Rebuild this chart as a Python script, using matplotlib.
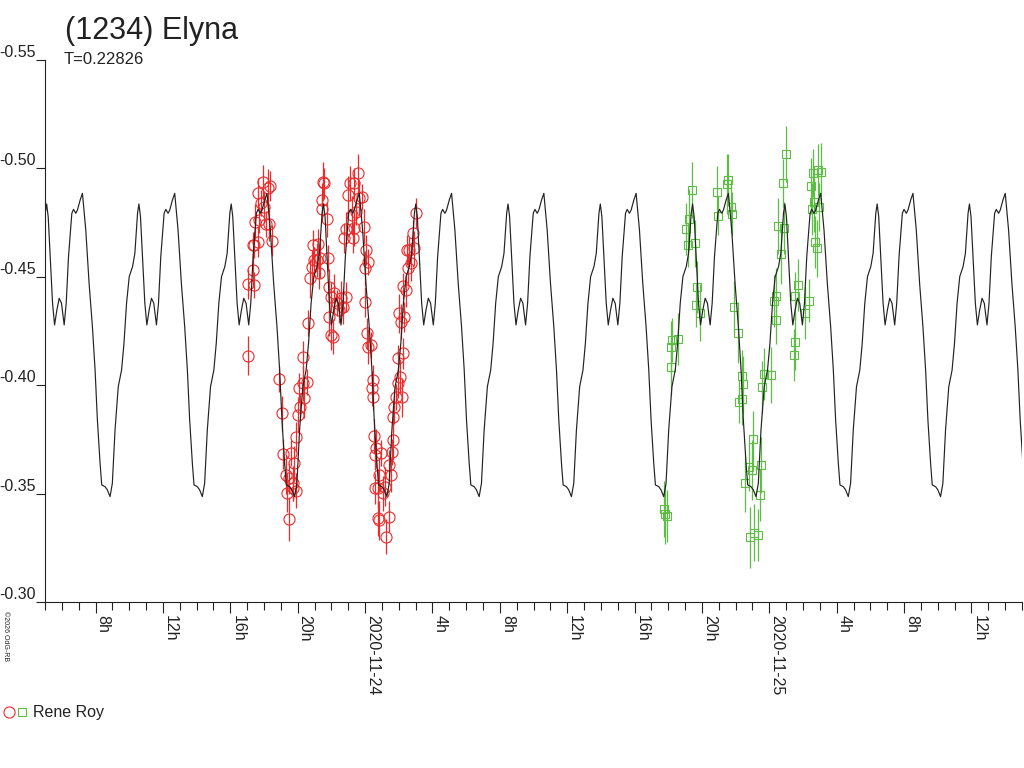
import numpy as np
import matplotlib
matplotlib.use("Agg")
import matplotlib.pyplot as plt
from matplotlib.lines import Line2D
from matplotlib.legend_handler import HandlerTuple

plt.rcParams['font.family'] = ['Liberation Sans', 'DejaVu Sans']

# hours since 2020-11-24 00:00 UT
period_d = 0.22826
peak_h = 5.136  # time of a maximum of the model

# one cycle of the model curve (phase, magnitude)
model_phase = [0, 0.036, 0.072, 0.108, 0.137, 0.162, 0.191, 0.209, 0.245, 0.270,
               0.299, 0.324, 0.353, 0.388, 0.424, 0.450, 0.478, 0.507, 0.543, 0.568,
               0.597, 0.612, 0.629, 0.651, 0.676, 0.698, 0.723, 0.748, 0.773, 0.802,
               0.824, 0.849, 0.885, 0.903, 0.928, 0.946, 0.975]
model_mag = [-0.4885, -0.4716, -0.4470, -0.4270, -0.4070, -0.3839, -0.3640, -0.3540, -0.3532, -0.3517,
             -0.3486, -0.3547, -0.3793, -0.3993, -0.4070, -0.4193, -0.4378, -0.4501, -0.4547, -0.4608,
             -0.4793, -0.4836, -0.4777, -0.4593, -0.4378, -0.4278, -0.4347, -0.4401, -0.4378, -0.4278,
             -0.4378, -0.4593, -0.4793, -0.4811, -0.4793, -0.4808, -0.4854]

# session 1 (red circles)
red_t = [-6.961, -6.922, -6.605, -6.625, -6.566, -6.368, -6.507, -6.309, -6.368, -6.072,
         -6.170, -5.973, -5.775, -5.617, -5.874, -5.676, -5.538, -6.665,
         -5.123, -4.925, -4.885, -4.688, -4.391, -4.193, -4.490, -4.648, -4.292, -4.094,
         -4.530, -4.094, -3.996, -3.857, -3.600, -3.897, -3.699, -3.462, -3.660, -3.363, -4.292,
         -3.264, -3.145, -3.106, -3.007, -2.869, -2.810, -2.671, -2.216, -2.552, -2.473,
         -2.414, -2.572, -2.276, -2.711,
         -2.157, -2.018, -1.821, -1.683, -1.425, -1.129, -2.117, -1.920, -2.018, -1.524, -1.287,
         -1.129, -1.228, -1.030, -0.891, -0.635, -0.437, -0.338, -0.180, -0.635, -0.734,
         -0.773, -0.536, -0.042, 0.057, 0.156, 0.018, -0.002,
         0.097, 0.156, 0.354, 0.492, 0.413, 0.453, 0.552, 0.651, 0.611, 0.947,
         0.848, 0.749, 0.611, 0.749, 0.848, 1.244, 1.441, 1.046, 1.204,
         1.402, 1.540, 1.600, 1.679, 1.639, 1.738, 1.837, 1.935, 2.074, 2.193,
         2.232, 1.935, 2.133, 2.331, 2.034, 2.232, 2.430, 2.528, 2.628, 2.727,
         2.469, 2.825, 2.924, 3.023]
red_mag = [-0.4136, -0.4467, -0.4462, -0.4531, -0.4647, -0.4662, -0.4754, -0.4762, -0.4885, -0.4936,
           -0.4839, -0.4824, -0.4908, -0.4919, -0.4744, -0.4744, -0.4667, -0.4647,
           -0.4029, -0.3870, -0.3683, -0.3586, -0.3686, -0.3640, -0.3570, -0.3504, -0.3524, -0.3514,
           -0.3383, -0.3760, -0.3863, -0.3901, -0.3940, -0.3986, -0.4009, -0.4013, -0.4132, -0.4285, -0.3547,
           -0.4493, -0.4544, -0.4647, -0.4578, -0.4578, -0.4651, -0.4585, -0.4585, -0.4854, -0.4939,
           -0.4931, -0.4811, -0.4765, -0.4516,
           -0.4455, -0.4408, -0.4424, -0.4378, -0.4401, -0.4408, -0.4316, -0.4224, -0.4232, -0.4347, -0.4362,
           -0.4721, -0.4678, -0.4877, -0.4931, -0.4931, -0.4977, -0.4862, -0.4870, -0.4724, -0.4678,
           -0.4785, -0.4801, -0.4731, -0.4624, -0.4570, -0.4539, -0.4385,
           -0.4239, -0.4178, -0.4186, -0.4024, -0.3986, -0.3947, -0.3766, -0.3709, -0.3678, -0.3686,
           -0.3586, -0.3524, -0.3524, -0.3386, -0.3378, -0.3301, -0.3394, -0.3501, -0.3532,
           -0.3632, -0.3586, -0.3694, -0.3747, -0.3855, -0.3901, -0.3947, -0.4009, -0.4039, -0.3944,
           -0.4147, -0.4124, -0.4293, -0.4316, -0.4332, -0.4458, -0.4439, -0.4539, -0.4624, -0.4562,
           -0.4624, -0.4701, -0.4631, -0.4793]
red_err = [0.009, 0.007, 0.006, 0.008, 0.006, 0.007, 0.008, 0.006, 0.007, 0.008,
           0.006, 0.007, 0.009, 0.007, 0.006, 0.008, 0.007, 0.006,
           0.006, 0.008, 0.007, 0.009, 0.006, 0.008, 0.007, 0.009, 0.006, 0.008,
           0.010, 0.007, 0.008, 0.006, 0.009, 0.007, 0.008, 0.006, 0.007, 0.006, 0.008,
           0.009, 0.008, 0.007, 0.006, 0.008, 0.007, 0.009, 0.006, 0.008, 0.009,
           0.007, 0.006, 0.008, 0.007,
           0.008, 0.007, 0.009, 0.006, 0.008, 0.007, 0.009, 0.008, 0.007, 0.006, 0.008,
           0.008, 0.007, 0.009, 0.008, 0.007, 0.009, 0.008, 0.006, 0.008, 0.007,
           0.009, 0.006, 0.008, 0.007, 0.006, 0.008, 0.007,
           0.007, 0.008, 0.006, 0.007, 0.008, 0.006, 0.008, 0.009, 0.007, 0.006,
           0.008, 0.009, 0.007, 0.008, 0.009, 0.008, 0.007, 0.008, 0.009,
           0.007, 0.008, 0.006, 0.009, 0.007, 0.008, 0.006, 0.007, 0.008, 0.009,
           0.007, 0.006, 0.008, 0.007, 0.009, 0.006, 0.008, 0.007, 0.006, 0.008,
           0.007, 0.006, 0.008, 0.007]

# session 2 (green squares)
green_t = [17.752, 17.811, 17.950, 18.187, 18.246, 18.602, 18.187, 19.393, 19.235, 19.037,
           19.195, 19.591, 19.729, 19.670, 19.887, 20.915, 20.975, 21.568, 21.508, 21.706,
           21.805, 21.904, 22.161, 22.359, 22.438, 22.200, 22.359, 23.031, 22.952, 22.556,
           22.794, 23.426, 23.486, 22.853, 23.327, 23.090, 23.683, 23.584, 24.079, 24.276,
           24.375, 24.414, 24.533, 24.870, 24.672, 24.810, 24.968, 25.720, 25.522, 26.352,
           26.115, 25.522, 25.463, 26.451, 26.590, 26.906, 27.045, 26.511, 26.945, 26.708,
           26.847, 26.649]
green_mag = [-0.3428, -0.3406, -0.3397, -0.4178, -0.4209, -0.4212, -0.4083, -0.4900, -0.4765, -0.4719,
             -0.4647, -0.4654, -0.4452, -0.4370, -0.4335, -0.4893, -0.4781, -0.4947, -0.4928, -0.4821,
             -0.4790, -0.4362, -0.4242, -0.4043, -0.4004, -0.3924, -0.3935, -0.3750, -0.3609, -0.3547,
             -0.3624, -0.3494, -0.3632, -0.3298, -0.3311, -0.3320, -0.4052, -0.3993, -0.4047, -0.4388,
             -0.4411, -0.4301, -0.4734, -0.4724, -0.4605, -0.4934, -0.5067, -0.4462, -0.4413, -0.4390,
             -0.4335, -0.4201, -0.4139, -0.4919, -0.4980, -0.4993, -0.4985, -0.4811, -0.4821, -0.4662,
             -0.4631, -0.4847]
green_err = [0.013, 0.014, 0.012, 0.012, 0.010, 0.012, 0.013, 0.013, 0.014, 0.012,
             0.010, 0.011, 0.012, 0.010, 0.013, 0.012, 0.009, 0.012, 0.014, 0.012,
             0.010, 0.012, 0.014, 0.012, 0.013, 0.010, 0.012, 0.013, 0.014, 0.013,
             0.011, 0.012, 0.013, 0.014, 0.012, 0.013, 0.012, 0.012, 0.013, 0.012,
             0.013, 0.011, 0.013, 0.012, 0.014, 0.011, 0.013, 0.012, 0.011, 0.010,
             0.012, 0.013, 0.012, 0.013, 0.011, 0.012, 0.013, 0.012, 0.011, 0.012,
             0.013, 0.014]

major_ticks = [-16, -12, -8, -4, 0, 4, 8, 12, 16, 20, 24, 28, 32, 36]
major_labels = ['8h', '12h', '16h', '20h', '2020-11-24', '4h', '8h', '12h',
                '16h', '20h', '2020-11-25', '4h', '8h', '12h']
ytick_vals = [-0.55, -0.50, -0.45, -0.40, -0.35, -0.30]

RED = '#ee2b2b'
GREEN = '#5cbf44'
INK = '#222222'

fig = plt.figure(figsize=(10.24, 7.68), dpi=100)
ax = fig.add_axes([45/1024, 166/768, 977/1024, 542/768])

# model curve, repeated over the plotted range
P = period_d * 24
cyc = np.arange(-5, 8)
mt = np.concatenate([peak_h + P * (np.array(model_phase) + k) for k in cyc])
mm = np.tile(model_mag, len(cyc))

ax.errorbar(red_t, red_mag, yerr=red_err, fmt='o', ms=8, mfc='none', mec=RED,
            mew=0.8, ecolor=RED, elinewidth=0.9, capsize=0, zorder=2)
ax.errorbar(green_t, green_mag, yerr=green_err, fmt='s', ms=5.5, mfc='none', mec=GREEN,
            mew=0.8, ecolor=GREEN, elinewidth=0.9, capsize=0, zorder=2)
ax.plot(mt, mm, color=INK, lw=0.85, zorder=3)

ax.set_xlim(-19, 39)
ax.set_ylim(-0.30, -0.55)

for s in ['top', 'right']:
    ax.spines[s].set_visible(False)
for s in ['left', 'bottom']:
    ax.spines[s].set_color(INK)
    ax.spines[s].set_linewidth(0.8)

ax.set_xticks(major_ticks)
ax.set_xticklabels(major_labels, rotation=270, ha='left')
ax.set_xticks(np.arange(-19, 40), minor=True)
ax.tick_params(axis='x', which='major', length=8, width=0.8, pad=1.5,
               labelsize=11.5, color=INK, labelcolor=INK)
ax.tick_params(axis='x', which='minor', length=5.8, width=0.8, color=INK)

ax.set_yticks(ytick_vals)
ax.set_yticklabels(['%.2f' % v for v in ytick_vals])
ax.tick_params(axis='y', length=6.5, width=0.8, pad=0, labelsize=11.5,
               color=INK, labelcolor=INK)
for lbl in ax.get_yticklabels():
    lbl.set_verticalalignment('bottom')

fig.text(65/1024, 1 - 39/768, '(1234) Elyna', fontsize=22, color=INK, va='baseline')
fig.text(64/1024, 1 - 64/768, 'T=0.22826', fontsize=12, color=INK, va='baseline')
fig.text(2/1024, 1 - 611/768, '\u00a92026 OdG-RB', fontsize=5, rotation=270,
         color=INK, ha='left', va='top')

h1 = Line2D([], [], marker='o', ls='none', ms=8, mfc='none', mec=RED, mew=0.8)
h2 = Line2D([], [], marker='s', ls='none', ms=5.5, mfc='none', mec=GREEN, mew=0.8)
fig.legend([(h1, h2)], ['Rene Roy'], loc='center left',
           bbox_to_anchor=(3/1024, 1 - 713/768), frameon=False,
           handler_map={tuple: HandlerTuple(ndivide=None, pad=0)},
           handlelength=1.6, handletextpad=0.28, borderpad=0, borderaxespad=0,
           fontsize=11.5, labelcolor=INK)

fig.savefig('out.png', dpi=100)
